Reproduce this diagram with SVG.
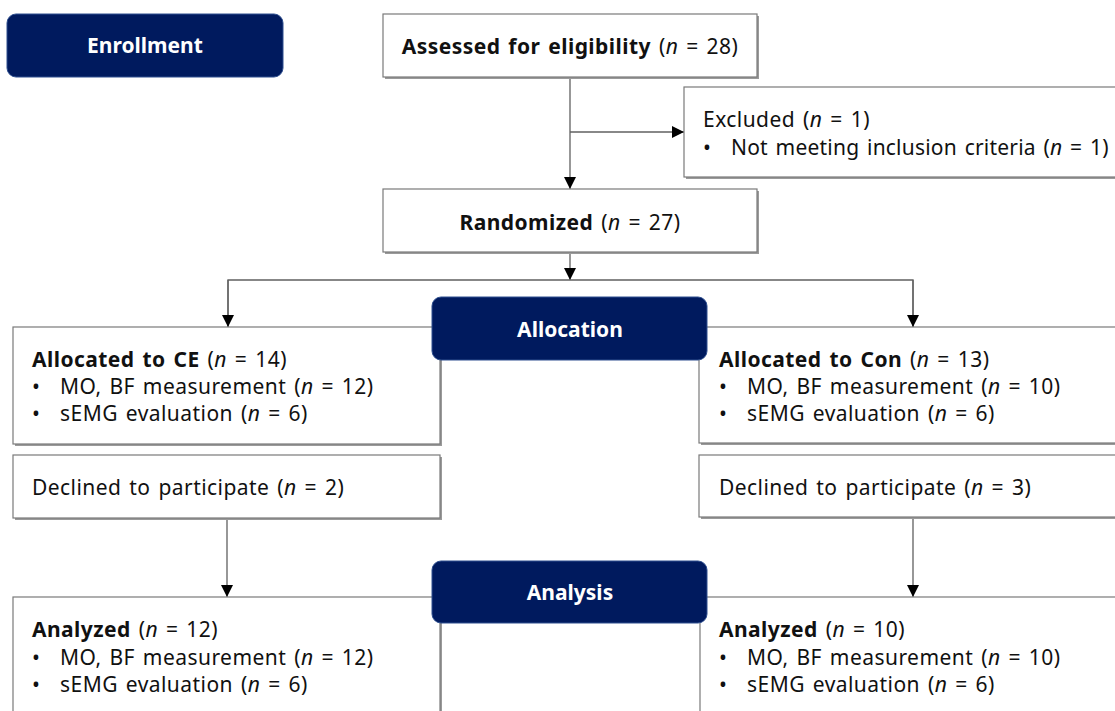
<svg xmlns="http://www.w3.org/2000/svg" width="1115" height="711" viewBox="0 0 1115 711">
<defs>
<marker id="ah" viewBox="0 0 12 12" refX="12" refY="6" markerWidth="12" markerHeight="12" markerUnits="userSpaceOnUse" orient="auto">
<path d="M0,0 L12,6 L0,12 Z" fill="#000"/>
</marker>
<style>
.sh{fill:#9a9a9a}
.bx{fill:#fff;stroke:#7a7a7a;stroke-width:1.2}
.lab{fill:#001a5e;stroke:#2e4f8f;stroke-width:1}
.lt{font-family:"Noto Sans","Liberation Sans",sans-serif;font-size:21px;font-weight:bold;fill:#fff;text-anchor:middle}
.t{font-family:"Noto Sans","Liberation Sans",sans-serif;font-size:21px;fill:#111;letter-spacing:0.45px;word-spacing:2px}
.b{font-weight:bold}
.i{font-style:italic}
.c{fill:none;stroke:#606060;stroke-width:1.3}
</style>
</defs>
<rect width="1115" height="711" fill="#fff"/>
<g id="connectors">
<line class="c" x1="570" y1="77" x2="570" y2="189" marker-end="url(#ah)"/>
<line class="c" x1="570" y1="132" x2="684" y2="132" marker-end="url(#ah)"/>
<line class="c" x1="570" y1="253" x2="570" y2="280" marker-end="url(#ah)"/>
<polyline class="c" points="228,327 228,280 913,280 913,327"/>
<line class="c" x1="228" y1="280" x2="228" y2="327" marker-end="url(#ah)"/>
<line class="c" x1="913" y1="280" x2="913" y2="327" marker-end="url(#ah)"/>
<line class="c" x1="227" y1="518" x2="227" y2="597" marker-end="url(#ah)"/>
<line class="c" x1="913" y1="518" x2="913" y2="597" marker-end="url(#ah)"/>
</g>
<g id="assessed">
<rect class="sh" x="385" y="16" width="374" height="63"/>
<rect class="bx" x="383" y="14" width="374" height="63"/>
<text class="t" x="570" y="54" text-anchor="middle"><tspan class="b">Assessed for eligibility</tspan> (<tspan class="i">n</tspan> = 28)</text>
</g>
<g id="excluded">
<rect class="sh" x="686" y="89" width="440" height="90"/>
<rect class="bx" x="684" y="87" width="440" height="90"/>
<text class="t" x="703" y="127">Excluded (<tspan class="i">n</tspan> = 1)</text>
<text class="t" x="703" y="155">•</text>
<text class="t" x="731" y="155" textLength="378" lengthAdjust="spacing">Not meeting inclusion criteria (<tspan class="i">n</tspan> = 1)</text>
</g>
<g id="randomized">
<rect class="sh" x="385" y="191" width="374" height="63"/>
<rect class="bx" x="383" y="189" width="374" height="63"/>
<text class="t" x="570" y="230" text-anchor="middle"><tspan class="b">Randomized</tspan> (<tspan class="i">n</tspan> = 27)</text>
</g>
<g id="alloc-ce">
<rect class="sh" x="15" y="329" width="427" height="117"/>
<rect class="bx" x="13" y="327" width="427" height="117"/>
<text class="t" x="32" y="367"><tspan class="b">Allocated to CE</tspan> (<tspan class="i">n</tspan> = 14)</text>
<text class="t" x="32" y="394">•</text>
<text class="t" x="60" y="394">MO, BF measurement (<tspan class="i">n</tspan> = 12)</text>
<text class="t" x="32" y="421">•</text>
<text class="t" x="60" y="421">sEMG evaluation (<tspan class="i">n</tspan> = 6)</text>
</g>
<g id="alloc-con">
<rect class="sh" x="701" y="329" width="430" height="116"/>
<rect class="bx" x="699" y="327" width="430" height="116"/>
<text class="t" x="719" y="367"><tspan class="b">Allocated to Con</tspan> (<tspan class="i">n</tspan> = 13)</text>
<text class="t" x="719" y="394">•</text>
<text class="t" x="747" y="394">MO, BF measurement (<tspan class="i">n</tspan> = 10)</text>
<text class="t" x="719" y="421">•</text>
<text class="t" x="747" y="421">sEMG evaluation (<tspan class="i">n</tspan> = 6)</text>
</g>
<g id="declined-ce">
<rect class="sh" x="15" y="457" width="427" height="63"/>
<rect class="bx" x="13" y="455" width="427" height="63"/>
<text class="t" x="32" y="495">Declined to participate (<tspan class="i">n</tspan> = 2)</text>
</g>
<g id="declined-con">
<rect class="sh" x="701" y="457" width="430" height="62"/>
<rect class="bx" x="699" y="455" width="430" height="62"/>
<text class="t" x="719" y="495">Declined to participate (<tspan class="i">n</tspan> = 3)</text>
</g>
<g id="analyzed-ce">
<rect class="sh" x="15" y="599" width="427" height="130"/>
<rect class="bx" x="13" y="597" width="427" height="130"/>
<text class="t" x="32" y="637"><tspan class="b">Analyzed</tspan> (<tspan class="i">n</tspan> = 12)</text>
<text class="t" x="32" y="665">•</text>
<text class="t" x="60" y="665">MO, BF measurement (<tspan class="i">n</tspan> = 12)</text>
<text class="t" x="32" y="692">•</text>
<text class="t" x="60" y="692">sEMG evaluation (<tspan class="i">n</tspan> = 6)</text>
</g>
<g id="analyzed-con">
<rect class="sh" x="702" y="599" width="430" height="130"/>
<rect class="bx" x="700" y="597" width="430" height="130"/>
<text class="t" x="719" y="637"><tspan class="b">Analyzed</tspan> (<tspan class="i">n</tspan> = 10)</text>
<text class="t" x="719" y="665">•</text>
<text class="t" x="747" y="665">MO, BF measurement (<tspan class="i">n</tspan> = 10)</text>
<text class="t" x="719" y="692">•</text>
<text class="t" x="747" y="692">sEMG evaluation (<tspan class="i">n</tspan> = 6)</text>
</g>
<g id="enrollment">
<rect class="lab" x="7" y="14" width="276" height="63" rx="9"/>
<text class="lt" x="145" y="53">Enrollment</text>
</g>
<g id="allocation">
<rect class="lab" x="432" y="297" width="275" height="63" rx="9"/>
<text class="lt" x="570" y="337">Allocation</text>
</g>
<g id="analysis">
<rect class="lab" x="432" y="561" width="275" height="62" rx="9"/>
<text class="lt" x="570" y="600">Analysis</text>
</g>
</svg>
